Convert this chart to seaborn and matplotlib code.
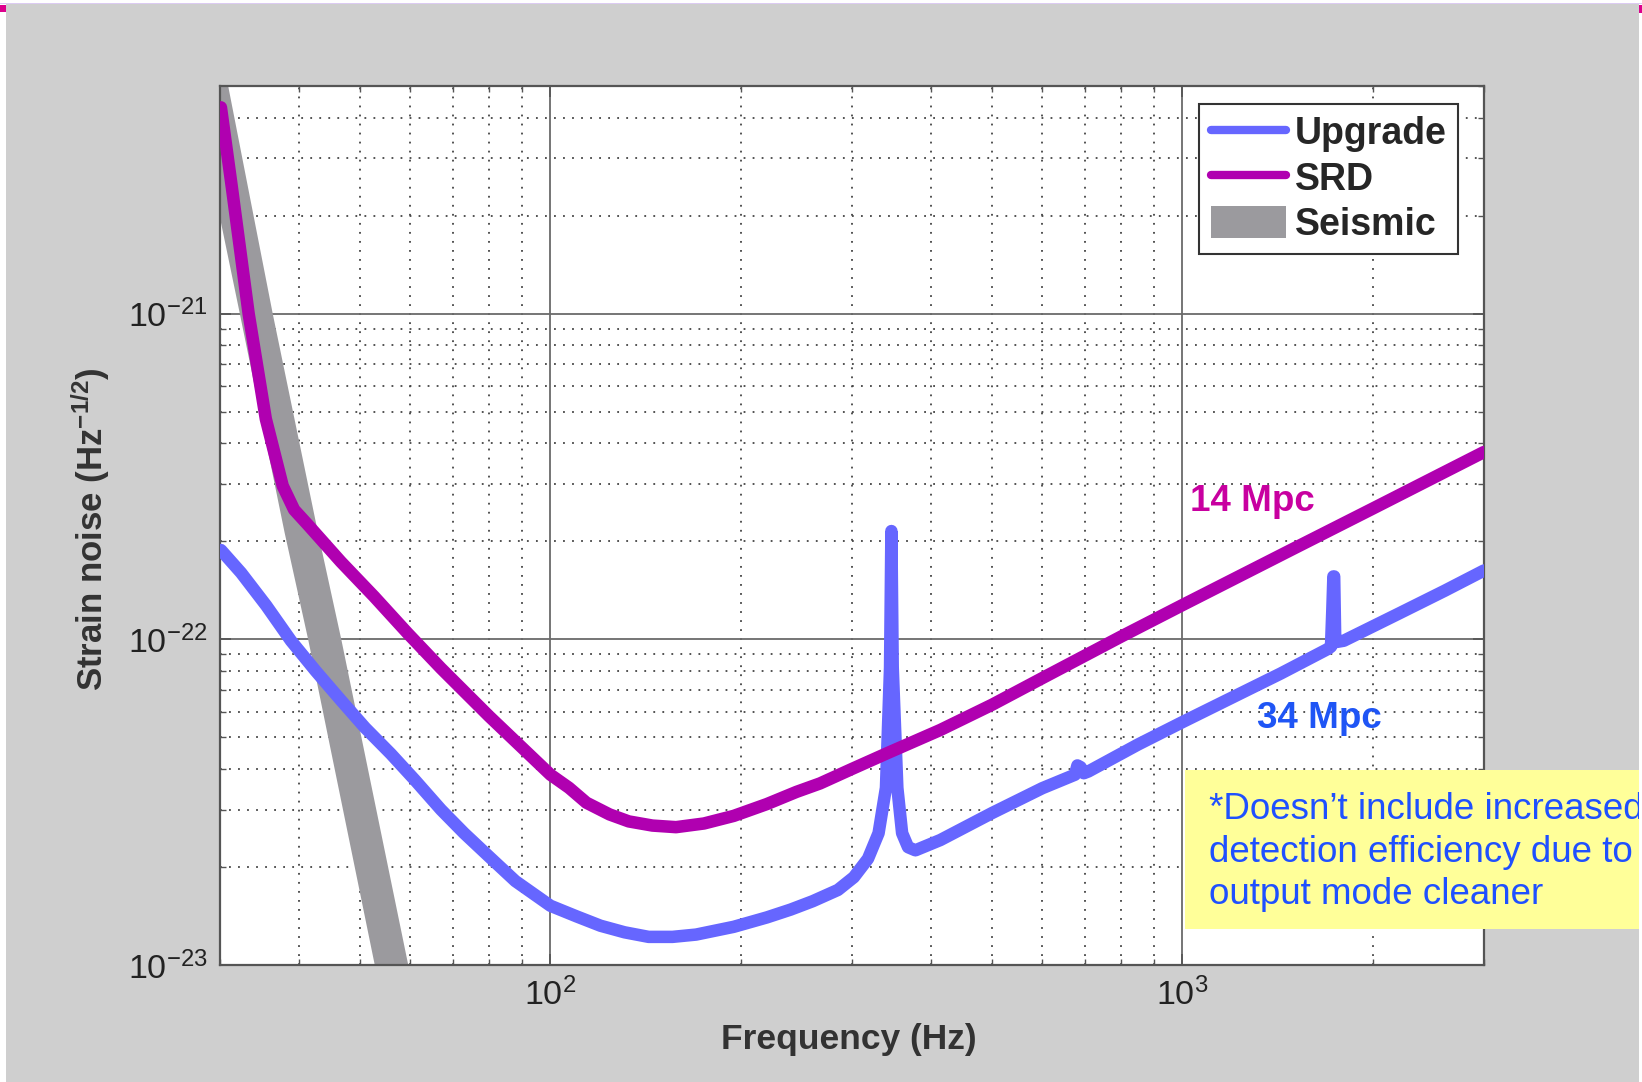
import numpy as np
import pandas as pd
import seaborn as sns
import matplotlib.pyplot as plt
from matplotlib.patches import Rectangle, Patch
from matplotlib.lines import Line2D
from matplotlib.ticker import LogLocator, NullFormatter

# --- data (Hz, strain / sqrt(Hz)) ---
upg_f = [30.1, 32.4, 35.5, 38.85, 42.5, 46.6, 50.9, 55.9, 61, 67.1, 73, 80, 88, 100,
         110, 120, 131, 143, 156, 170, 195, 220, 240, 260, 285,
         302, 318, 330.5, 339.5, 344.6, 346.3, 348.0, 353.9, 360.1, 368, 378, 414, 500,
         600, 676, 682, 690, 698, 710, 850, 1000, 1250, 1430, 1700, 1718, 1726, 1733,
         1738, 1745, 1800, 2200, 2600, 3000]
upg_h = [1.88e-22, 1.6e-22, 1.27e-22, 9.9e-23, 8.0e-23, 6.5e-23, 5.35e-23, 4.45e-23,
         3.7e-23, 3.0e-23, 2.54e-23, 2.15e-23, 1.81e-23, 1.52e-23,
         1.41e-23, 1.32e-23, 1.26e-23, 1.22e-23, 1.22e-23, 1.24e-23, 1.31e-23, 1.4e-23,
         1.48e-23, 1.57e-23, 1.70e-23,
         1.86e-23, 2.12e-23, 2.54e-23, 3.5e-23, 8.2e-23, 2.15e-22, 8.2e-23, 3.5e-23,
         2.54e-23, 2.3e-23, 2.25e-23, 2.42e-23, 2.93e-23,
         3.49e-23, 3.84e-23, 4.1e-23, 4.05e-23, 3.88e-23, 3.93e-23, 4.75e-23, 5.57e-23,
         6.9e-23, 7.85e-23, 9.35e-23, 9.5e-23, 1.22e-22, 1.56e-22,
         1.56e-22, 9.8e-23, 9.9e-23, 1.2e-22, 1.41e-22, 1.627e-22]

srd_f = [30.1, 31.3, 33.3, 35.45, 37.7, 39.3, 41.3, 46.6, 52.6, 59.4, 67.1, 80, 100,
         107, 114, 124, 133, 145, 158, 175, 195, 220, 245, 267, 300, 341, 414, 500,
         600, 800, 1000, 1500, 2000, 3000]
srd_h = [4.3e-21, 2.47e-21, 1.0e-21, 4.75e-22, 2.96e-22, 2.5e-22, 2.25e-22, 1.73e-22,
         1.353e-22, 1.045e-22, 8.15e-23, 5.8e-23, 3.84e-23,
         3.5e-23, 3.15e-23, 2.9e-23, 2.76e-23, 2.68e-23, 2.65e-23, 2.72e-23, 2.87e-23,
         3.12e-23, 3.4e-23, 3.61e-23, 4.0e-23, 4.47e-23, 5.27e-23, 6.3e-23,
         7.6e-23, 1.02e-22, 1.274e-22, 1.9e-22, 2.52e-22, 3.76e-22]

seis_h = [6e-21, 1e-21, 2.13e-22, 1e-22, 8e-24]
seis_f_lo = [26.6, 32.2, 37.9, 41.3, 53.9]
seis_f_hi = [30.3, 36.3, 42.8, 46.6, 60.9]

labels = ['Upgrade', 'SRD', 'Seismic']
c_upg = '#6666ff'
c_srd = '#b000b0'
c_seis = '#9b9a9e'

sns.set_theme(style='ticks')
plt.rcParams['font.family'] = ['Liberation Sans', 'DejaVu Sans']
plt.rcParams['mathtext.fontset'] = 'custom'
plt.rcParams['mathtext.rm'] = 'Liberation Sans'
plt.rcParams['mathtext.bf'] = 'Liberation Sans:bold'
plt.rcParams['mathtext.it'] = 'Liberation Sans:italic'

W, H = 1642, 1082
fig = plt.figure(figsize=(W/100, H/100), dpi=100, facecolor='#cfcfcf')
ax = fig.add_axes([220/W, 1-965/H, 1264/W, 879/H])
ax.set_facecolor('white')
ax.set_xscale('log')
ax.set_yscale('log')

ax.fill_betweenx(seis_h, seis_f_lo, seis_f_hi, color=c_seis, lw=0, zorder=2)

df_upg = pd.DataFrame({'f': upg_f, 'h': upg_h})
df_srd = pd.DataFrame({'f': srd_f, 'h': srd_h})
sns.lineplot(data=df_upg, x='f', y='h', ax=ax, color=c_upg, lw=9, estimator=None,
             sort=False, zorder=3)
sns.lineplot(data=df_srd, x='f', y='h', ax=ax, color=c_srd, lw=9, estimator=None,
             sort=False, zorder=4)

ax.set_xlim(30, 3000)
ax.set_ylim(1e-23, 5e-21)

ax.xaxis.set_major_locator(LogLocator(base=10))
ax.yaxis.set_major_locator(LogLocator(base=10))
ax.xaxis.set_minor_locator(LogLocator(base=10, subs=np.arange(2, 10)))
ax.yaxis.set_minor_locator(LogLocator(base=10, subs=np.arange(2, 10)))
ax.xaxis.set_minor_formatter(NullFormatter())
ax.yaxis.set_minor_formatter(NullFormatter())

ax.set_axisbelow(True)
ax.grid(which='major', color='#6a6a6a', lw=1.3, ls='-')
ax.grid(which='minor', color='#444444', lw=1.3, ls=(0, (1, 4)))

ax.tick_params(which='major', direction='in', length=8, width=1.2, top=True, right=True,
               labelsize=24.5, pad=9, labelcolor='#222222', color='#555555')
ax.tick_params(which='minor', direction='in', length=4, width=1.0, top=True, right=True,
               color='#555555')
for s in ax.spines.values():
    s.set_color('#555555')
    s.set_linewidth(1.6)

ax.set_xlabel('Frequency (Hz)', fontsize=25.5, fontweight='bold', color='#333333')
ax.set_ylabel(r'Strain noise (Hz$^{\mathbf{-1/2}}$)', fontsize=25, fontweight='bold',
              color='#333333')
ax.xaxis.set_label_coords(0.4976, -0.066)
ax.yaxis.set_label_coords(-0.0854, 0.496)

ax.text(1288, 2.645e-22, '14 Mpc', color='#c800a0', fontsize=26.5, fontweight='bold',
        ha='center', va='center', zorder=6)
ax.text(1648, 5.72e-23, '34 Mpc', color='#1f55f5', fontsize=26.5, fontweight='bold',
        ha='center', va='center', zorder=6)

handles = [Line2D([], [], color=c_upg, lw=6),
           Line2D([], [], color=c_srd, lw=6),
           Patch(facecolor=c_seis, edgecolor='none')]
leg = ax.legend(handles, labels, loc='upper right',
                bbox_to_anchor=(1458/W, 1-104/H), bbox_transform=fig.transFigure,
                borderaxespad=0, frameon=True, fancybox=False, framealpha=1,
                edgecolor='#333333', prop={'weight': 'bold', 'size': 27},
                handlelength=2.0, handleheight=0.95, handletextpad=0.25,
                labelspacing=0.22, borderpad=0.3)
leg.get_frame().set_linewidth(1.5)

# yellow note box, sticking out past the right edge
fig.add_artist(Rectangle((1185/W, 1-929/H), (W-1185)/W, 159/H, transform=fig.transFigure,
                         facecolor='#ffff99', edgecolor='none', zorder=5))
fig.text(1209/W, 1-792/H,
         '*Doesn\u2019t include increased\ndetection efficiency due to\noutput mode cleaner',
         color='#1f50ff', fontsize=26.5, ha='left', va='top', linespacing=1.28, zorder=6)

# slide edge bits
fig.add_artist(Rectangle((0, 0), 6/W, 1, transform=fig.transFigure, facecolor='white',
                         edgecolor='none', zorder=10))
fig.add_artist(Rectangle((1639/W, 0), 3/W, 1, transform=fig.transFigure, facecolor='white',
                         edgecolor='none', zorder=10))
fig.add_artist(Rectangle((0, 1-3/H), 1, 3/H, transform=fig.transFigure, facecolor='white',
                         edgecolor='none', zorder=10))
fig.add_artist(Rectangle((0, 1-4/H), 1, 1.5/H, transform=fig.transFigure, facecolor='#dccbf2',
                         edgecolor='none', zorder=11))
fig.add_artist(Rectangle((0, 1-12/H), 6/W, 7/H, transform=fig.transFigure, facecolor='#dc008c',
                         edgecolor='none', zorder=12))
fig.add_artist(Rectangle((1639/W, 1-13/H), 3/W, 8/H, transform=fig.transFigure,
                         facecolor='#dc008c', edgecolor='none', zorder=12))

fig.savefig('out.png', dpi=100, facecolor=fig.get_facecolor())
